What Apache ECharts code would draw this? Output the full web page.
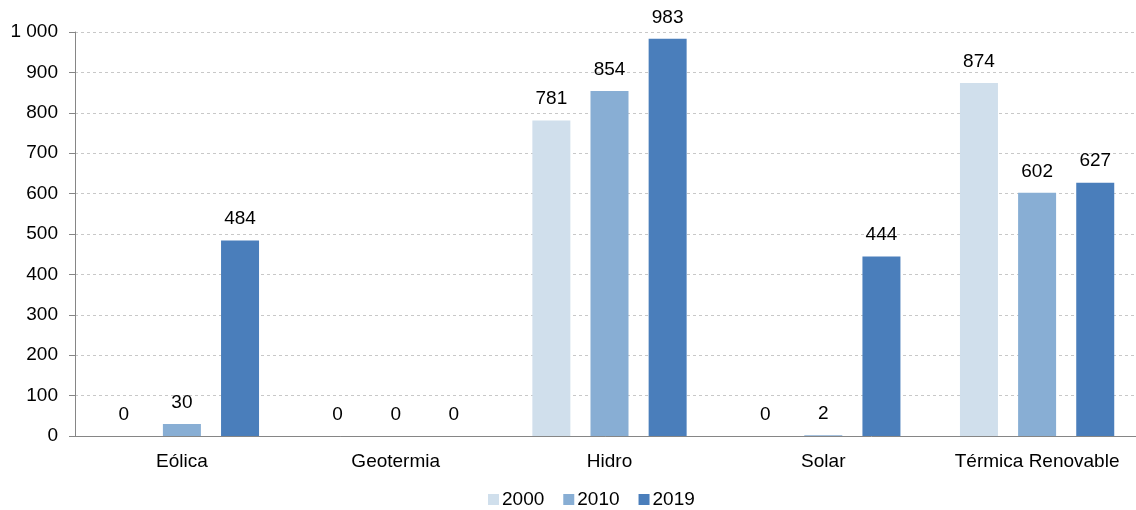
<!DOCTYPE html>
<html>
<head>
<meta charset="utf-8">
<script src="https://cdn.jsdelivr.net/npm/echarts@6/dist/echarts.min.js"></script>
<style>
html,body{margin:0;padding:0;background:#fff;overflow:hidden;}
#chart{width:1136px;height:510px;}
</style>
</head>
<body>
<div id="chart"></div>
<script>
// Renewable generation by source, three reference years
const categories = ['Eólica', 'Geotermia', 'Hidro', 'Solar', 'Térmica Renovable'];
const years = ['2000', '2010', '2019'];
const values2000 = [0, 0, 781, 0, 874];
const values2010 = [30, 0, 854, 2, 602];
const values2019 = [484, 0, 983, 444, 627];
const seriesColors = ['#D0DFEC', '#88AED4', '#4A7EBB'];

const font = 'Liberation Sans, Arial, sans-serif';
const fmt = v => {
  const s = String(Math.round(v));
  return s.replace(/\B(?=(\d{3})+(?!\d))/g, ' ');
};

const chart = echarts.init(document.getElementById('chart'));
const seriesData = [values2000, values2010, values2019];

chart.setOption({
  animation: false,
  // plot area runs slightly past the right edge of the canvas
  grid: { left: 75, width: 1069, top: 32, bottom: 74, containLabel: false, outerBoundsMode: 'none' },
  legend: {
    top: 485,
    left: 483,
    itemWidth: 11,
    itemHeight: 11,
    itemGap: 19,
    icon: 'rect',
    textStyle: { fontFamily: font, fontSize: 19, color: '#000', padding: [0, 0, 0, -2] },
    data: years
  },
  xAxis: {
    type: 'category',
    data: categories,
    axisTick: { show: false },
    axisLine: { lineStyle: { color: '#868686', width: 1 } },
    axisLabel: { fontFamily: font, fontSize: 19, color: '#000', margin: 16, interval: 0 }
  },
  yAxis: {
    type: 'value',
    min: 0,
    max: 1000,
    interval: 100,
    axisLine: { show: true, lineStyle: { color: '#868686', width: 1 } },
    axisTick: { show: true, length: 6, lineStyle: { color: '#868686' } },
    splitLine: { lineStyle: { color: '#c8c8c8', type: [3, 3], width: 1 } },
    axisLabel: { fontFamily: font, fontSize: 19, color: '#000', margin: 17, formatter: fmt }
  },
  series: years.map((y, i) => ({
    name: y,
    type: 'bar',
    data: seriesData[i],
    barWidth: 38,
    barGap: '53%',
    barCategoryGap: '27%',
    itemStyle: { color: seriesColors[i] },
    label: {
      show: true,
      position: 'top',
      distance: 12,
      fontFamily: font,
      fontSize: 19,
      color: '#000',
      formatter: p => fmt(p.value)
    }
  }))
});
</script>
</body>
</html>
